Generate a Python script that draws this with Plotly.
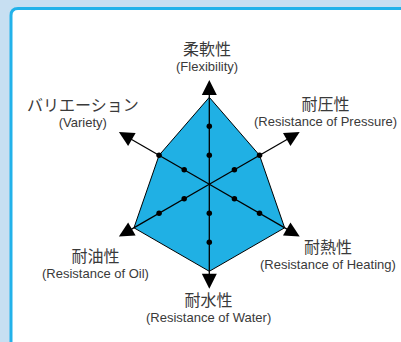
import plotly.graph_objects as go

# axis names (clockwise from top) and the rating on each one
categories = ["Flexibility", "Pressure", "Heating", "Water", "Oil", "Variety"]
labels_jp = ["柔軟性", "耐圧性", "耐熱性", "耐水性", "耐油性", "バリエーション"]
labels_en = ["(Flexibility)", "(Resistance of Pressure)", "(Resistance of Heating)",
             "(Resistance of Water)", "(Resistance of Oil)", "(Variety)"]
ratings = [3, 2, 3, 3, 3, 2]
dot_levels = [1, 2]
arrow_level = 3.6
line_level = 3.3
arrow_angles = [0, 60, 120, 180, 240, 300]

W, H = 401, 342
BLUE = "#20b0e4"
TEXT = "#3a3a3a"


def px(x, y):
    """pixel -> paper coords"""
    return x / W, 1 - y / H


fig = go.Figure()

# filled shape
fig.add_trace(go.Scatterpolar(
    r=ratings + ratings[:1], theta=categories + categories[:1],
    mode="lines", fill="toself", fillcolor=BLUE,
    line=dict(color="black", width=1), hoverinfo="skip"))

# axis lines
r_lines, t_lines = [], []
for c in categories:
    r_lines += [0, line_level, None]
    t_lines += [c, c, c]
fig.add_trace(go.Scatterpolar(
    r=r_lines, theta=t_lines, mode="lines",
    line=dict(color="black", width=1.3), hoverinfo="skip"))

# dots
r_dots, t_dots = [], []
for c in categories:
    for lv in dot_levels:
        r_dots.append(lv)
        t_dots.append(c)
fig.add_trace(go.Scatterpolar(
    r=r_dots, theta=t_dots, mode="markers",
    marker=dict(color="black", size=5.5), hoverinfo="skip"))

# arrow heads
fig.add_trace(go.Scatterpolar(
    r=[arrow_level] * len(categories), theta=categories, mode="markers",
    marker=dict(symbol="arrow-up", size=15, color="black", angle=arrow_angles,
                line=dict(width=0)),
    cliponaxis=False, hoverinfo="skip"))

# label centers in px (two-line block: japanese over english)
label_pos = [(207, 55.5), (325, 110), (328, 253), (209, 305.5), (95, 261.5), (83, 111)]

annotations = []
for jp, en, (lx, ly) in zip(labels_jp, labels_en, label_pos):
    x, y = px(lx, ly)
    txt = (f"<span style='font-family:Noto Sans CJK JP;font-size:16px'>{jp}</span>"
           f"<br><span style='font-size:13px'>{en}</span>")
    annotations.append(dict(x=x, y=y, xref="paper", yref="paper", text=txt, showarrow=False,
                            xanchor="center", yanchor="middle", align="center",
                            font=dict(family="Liberation Sans, Arial", size=12.5, color=TEXT)))

# rounded white panel with cyan border
l, t, rr, b, rad = 11, 8.5, 407, 350, 7
pts = [
    ("M", l, t + rad), ("Q", l, t, l + rad, t), ("L", rr - rad, t), ("Q", rr, t, rr, t + rad),
    ("L", rr, b - rad), ("Q", rr, b, rr - rad, b), ("L", l + rad, b), ("Q", l, b, l, b - rad),
]
path = ""
for p in pts:
    cmd, coords = p[0], p[1:]
    xy = []
    for i in range(0, len(coords), 2):
        x, y = px(coords[i], coords[i + 1])
        xy.append(f"{x:.5f},{y:.5f}")
    path += cmd + " ".join(xy) + " "
path += "Z"

cx, cy, rad_px = 209.3, 184.3, 116
fig.update_layout(
    width=W, height=H,
    margin=dict(l=0, r=0, t=0, b=0),
    paper_bgcolor="#c7dff2",
    showlegend=False,
    shapes=[dict(type="path", path=path, xref="paper", yref="paper",
                 fillcolor="white", line=dict(color="#22b2ea", width=3), layer="below")],
    annotations=annotations,
    polar=dict(
        domain=dict(x=[(cx - rad_px) / W, (cx + rad_px) / W],
                    y=[1 - (cy + rad_px) / H, 1 - (cy - rad_px) / H]),
        bgcolor="rgba(0,0,0,0)",
        radialaxis=dict(range=[0, 4], visible=False),
        angularaxis=dict(rotation=90, direction="clockwise", visible=False,
                         categoryarray=categories, categoryorder="array"),
    ),
)

# page body has a default 8px margin; drop it so the figure sits at 0,0
fig.write_html("out.html", config={"displayModeBar": False},
               post_script="document.body.style.margin='0';")
